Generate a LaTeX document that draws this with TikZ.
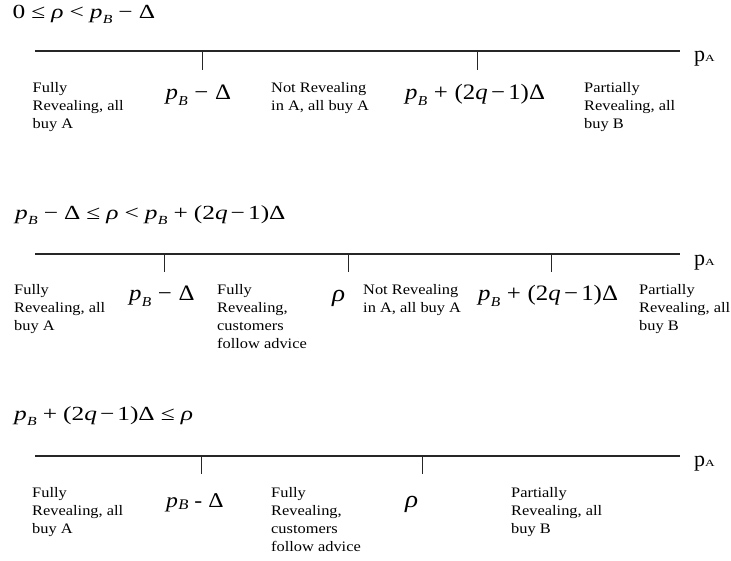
\documentclass[tikz,border=0pt]{standalone}
\usepackage{graphicx}
\usepackage{fontspec}
\setmainfont{Liberation Serif}
\newfontfamily\lblfont[FakeStretch=1.13]{Liberation Serif}
\newfontfamily\mthfont[FakeStretch=1.13]{Liberation Serif}
\newfontfamily\ttlfont[FakeStretch=1.27]{Liberation Serif}
\newcommand\sbB{\kern0.3pt\raisebox{-0.25em}{\scalebox{0.62}{\itshape B}}}
\newcommand\sbBb{\kern0.3pt\raisebox{-0.1em}{\scalebox{0.7}{\itshape B}}}
\newcommand\rl[1]{\kern0.3em#1\kern0.3em}
\newcommand\rs[1]{\kern0.15em#1\kern0.15em}
\newcommand\ip{{\itshape p}}
\newcommand\irho{{\itshape ρ}}
\newcommand\iq{{\itshape q}}
\newcommand\pA{p\scalebox{1.4}[1]{\fontsize{9.5}{10}\selectfont A}}
\tikzset{
  axisline/.style={line width=1.2pt, black!85},
  tickline/.style={line width=1pt, black!85},
  lbl/.style={font=\lblfont\fontsize{14.5}{18}\selectfont, align=left, anchor=north west, inner sep=0pt},
  ttl/.style={font=\ttlfont\fontsize{20}{23}\selectfont, anchor=base west, inner sep=0pt},
  mth/.style={font=\mthfont\fontsize{22}{25}\selectfont, anchor=base west, inner sep=0pt},
  mthb/.style={font=\mthfont\fontsize{21}{24}\selectfont, anchor=base west, inner sep=0pt},
  rho/.style={font=\mthfont\fontsize{24}{26}\selectfont, anchor=base west, inner sep=0pt},
  pa/.style={font=\fontsize{22}{24}\selectfont, anchor=base west, inner sep=0pt}
}
\begin{document}
\begin{tikzpicture}[x=1pt,y=-1pt]
\useasboundingbox (0,0) rectangle (731,561);
% ---------- Row 1 ----------
\node[ttl] (t1) at (12.5,19) {0\rl{≤}\irho\rl{<}\ip\sbB\rl{−}Δ};
\coordinate (a1s) at (35,51);
\coordinate (a1e) at (680,51);
\draw[axisline] (a1s) -- (a1e);
\node[pa] (pa1) at (694,62) {\pA};
\coordinate (k11) at (202,51); \coordinate (k11b) at (202,70);
\coordinate (k12) at (477.5,51); \coordinate (k12b) at (477.5,70);
\draw[tickline] (k11) -- (k11b);
\draw[tickline] (k12) -- (k12b);
\node[lbl] (l11) at (32.5,82) {Fully\\Revealing, all\\buy A};
\node[mth] (m11) at (165.5,100) {\ip\sbB\rl{−}Δ};
\node[lbl] (l12) at (271,82) {Not Revealing\\in A, all buy A};
\node[mth] (m12) at (405,100) {\ip\sbB\rl{+}(2\iq\rs{−}1)Δ};
\node[lbl] (l13) at (584,82) {Partially\\Revealing, all\\buy B};
% ---------- Row 2 ----------
\node[ttl] (t2) at (15,220) {\ip\sbB\rl{−}Δ\rl{≤}\irho\rl{<}\ip\sbB\rl{+}(2\iq\rs{−}1)Δ};
\coordinate (a2s) at (35,254);
\coordinate (a2e) at (680,254);
\draw[axisline] (a2s) -- (a2e);
\node[pa] (pa2) at (694,266) {\pA};
\coordinate (k21) at (164.5,254); \coordinate (k21b) at (164.5,272);
\coordinate (k22) at (348.5,254); \coordinate (k22b) at (348.5,272);
\coordinate (k23) at (551,254); \coordinate (k23b) at (551,272);
\draw[tickline] (k21) -- (k21b);
\draw[tickline] (k22) -- (k22b);
\draw[tickline] (k23) -- (k23b);
\node[lbl] (l21) at (14,284) {Fully\\Revealing, all\\buy A};
\node[mth] (m21) at (129,301) {\ip\sbB\rl{−}Δ};
\node[lbl] (l22) at (217,284) {Fully\\Revealing,\\customers\\follow advice};
\node[rho] (m22) at (332,302) {\irho};
\node[lbl] (l23) at (363,284) {Not Revealing\\in A, all buy A};
\node[mth] (m23) at (478,301) {\ip\sbB\rl{+}(2\iq\rs{−}1)Δ};
\node[lbl] (l24) at (639,284) {Partially\\Revealing, all\\buy B};
% ---------- Row 3 ----------
\node[ttl] (t3) at (14,420) {\ip\sbB\rl{+}(2\iq\rs{−}1)Δ\rl{≤}\irho};
\coordinate (a3s) at (35,456);
\coordinate (a3e) at (680,456);
\draw[axisline] (a3s) -- (a3e);
\node[pa] (pa3) at (694,466) {\pA};
\coordinate (k31) at (201.5,456); \coordinate (k31b) at (201.5,474);
\coordinate (k32) at (422,456); \coordinate (k32b) at (422,474);
\draw[tickline] (k31) -- (k31b);
\draw[tickline] (k32) -- (k32b);
\node[lbl] (l31) at (32,487) {Fully\\Revealing, all\\buy A};
\node[mthb] (m31) at (166,507) {\ip\sbBb\ -\ Δ};
\node[lbl] (l32) at (271,487) {Fully\\Revealing,\\customers\\follow advice};
\node[rho] (m32) at (405,507) {\irho};
\node[lbl] (l33) at (511,487) {Partially\\Revealing, all\\buy B};
\end{tikzpicture}
\end{document}
